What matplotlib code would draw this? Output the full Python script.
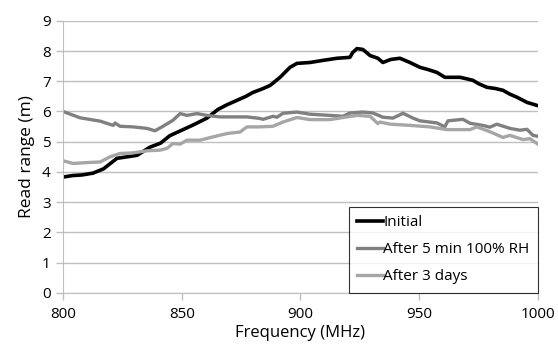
import matplotlib
matplotlib.use("Agg")
import matplotlib.pyplot as plt

plt.rcParams['font.family'] = ['Open Sans', 'DejaVu Sans']

# Initial (black)
f_init = [800, 804, 808, 812.6, 817, 822.7, 827, 831.2, 836.6, 841, 845, 850, 854.7,
          860.6, 865.3, 869, 873.3, 877, 880, 884, 887.2, 891.4, 895.6, 898.5, 904,
          909.5, 915.4, 920.8, 922, 923.8, 926.3, 929.3, 932.6, 934.7, 938, 941.9,
          946.1, 950.3, 954, 957.5, 960.8, 964, 967.2, 970, 972.6, 975, 978.5, 982,
          985.3, 988, 991.2, 995.4, 999.6]
v_init = [3.83, 3.88, 3.9, 3.96, 4.1, 4.45, 4.5, 4.55, 4.82, 4.95, 5.2, 5.38, 5.55,
          5.78, 6.07, 6.22, 6.37, 6.5, 6.63, 6.75, 6.86, 7.13, 7.46, 7.59, 7.62,
          7.69, 7.76, 7.79, 7.95, 8.08, 8.05, 7.85, 7.76, 7.62, 7.72, 7.76,
          7.62, 7.46, 7.38, 7.29, 7.13, 7.13, 7.13, 7.08, 7.03, 6.92, 6.8, 6.76,
          6.7, 6.58, 6.47, 6.3, 6.2]

# After 5 min 100% RH (dark gray)
f_rh = [800, 807.2, 815.6, 821.1, 821.9, 824, 829.5, 835.4, 838.7, 842.1, 846.3,
        849.3, 852.2, 856.4, 860.6, 866.1, 871.6, 877.5, 882.9, 884.2, 888.4,
        890.1, 892.6, 898.5, 904, 912.4, 917.9, 920.8, 926.3, 930.5, 934.7, 938.9,
        943.2, 947.4, 950.3, 957.5, 960.8, 962.1, 968.4, 971.4, 976.8, 979.8,
        982.7, 988.2, 992.4, 995.4, 997.9, 1000]
v_rh = [6.0, 5.79, 5.68, 5.54, 5.62, 5.51, 5.49, 5.44, 5.36, 5.51, 5.71,
        5.93, 5.87, 5.93, 5.87, 5.82, 5.82, 5.82, 5.77, 5.74, 5.84,
        5.81, 5.94, 5.98, 5.91, 5.87, 5.84, 5.95, 5.98, 5.95, 5.81, 5.78,
        5.94, 5.78, 5.69, 5.62, 5.49, 5.69, 5.74, 5.61, 5.54, 5.48,
        5.58, 5.44, 5.38, 5.41, 5.21, 5.18]

# After 3 days (light gray)
f_3d = [800, 804.2, 810.1, 815.6, 819.8, 824, 829.5, 835.4, 840.8, 843.8, 846.3,
        849.3, 852.2, 857.7, 863.2, 869.1, 874.5, 877.5, 882.9, 888.4, 892.6,
        898.5, 904, 912.4, 917.9, 923.8, 929.3, 932.6, 933.5, 937.7, 946.1,
        954.5, 961.7, 971.4, 974.3, 979.8, 985.3, 988.2, 993.7, 996.6, 1000]
v_3d = [4.37, 4.28, 4.31, 4.33, 4.5, 4.61, 4.63, 4.7, 4.72, 4.78, 4.94,
        4.92, 5.05, 5.05, 5.16, 5.27, 5.32, 5.49, 5.49, 5.51, 5.65,
        5.8, 5.73, 5.73, 5.8, 5.87, 5.84, 5.6, 5.65, 5.58, 5.54,
        5.49, 5.4, 5.4, 5.49, 5.33, 5.14, 5.21, 5.07, 5.1, 4.92]

labels = ["Initial", "After 5 min 100% RH", "After 3 days"]
colors = ["#000000", "#808080", "#a6a6a6"]

x_ticks = [800, 850, 900, 950, 1000]
y_ticks = [0, 1, 2, 3, 4, 5, 6, 7, 8, 9]

fig = plt.figure(figsize=(5.58, 3.52), dpi=100)
ax = fig.add_axes([0.113, 0.168, 0.851, 0.773])

ax.plot(f_init, v_init, color=colors[0], lw=2.6, label=labels[0], solid_joinstyle='round')
ax.plot(f_rh, v_rh, color=colors[1], lw=2.4, label=labels[1], solid_joinstyle='round')
ax.plot(f_3d, v_3d, color=colors[2], lw=2.4, label=labels[2], solid_joinstyle='round')

ax.set_xlim(800, 1000)
ax.set_ylim(0, 9)
ax.set_xticks(x_ticks)
ax.set_yticks(y_ticks)
ax.grid(axis='y', color='#bfbfbf', lw=1)
ax.set_axisbelow(True)
for s in ['top', 'right']:
    ax.spines[s].set_visible(False)
ax.spines['left'].set_color('#bfbfbf')
ax.spines['bottom'].set_color('#bfbfbf')
ax.tick_params(axis='both', colors='#bfbfbf', labelcolor='black', labelsize=11, length=5, width=1)
ax.tick_params(axis='x', pad=5)
ax.tick_params(axis='y', pad=4)
ax.set_xlabel("Frequency (MHz)", fontsize=12, labelpad=2)
ax.set_ylabel("Read range (m)", fontsize=12.5, labelpad=5)

leg = ax.legend(loc='lower right', bbox_to_anchor=(1.0, 0.0), borderaxespad=0,
                fontsize=11, frameon=True, fancybox=False, edgecolor='black',
                handlelength=1.7, handletextpad=0.0, labelspacing=0.8,
                borderpad=0.55)
leg.get_frame().set_linewidth(0.8)

fig.savefig("out.png", dpi=100)
